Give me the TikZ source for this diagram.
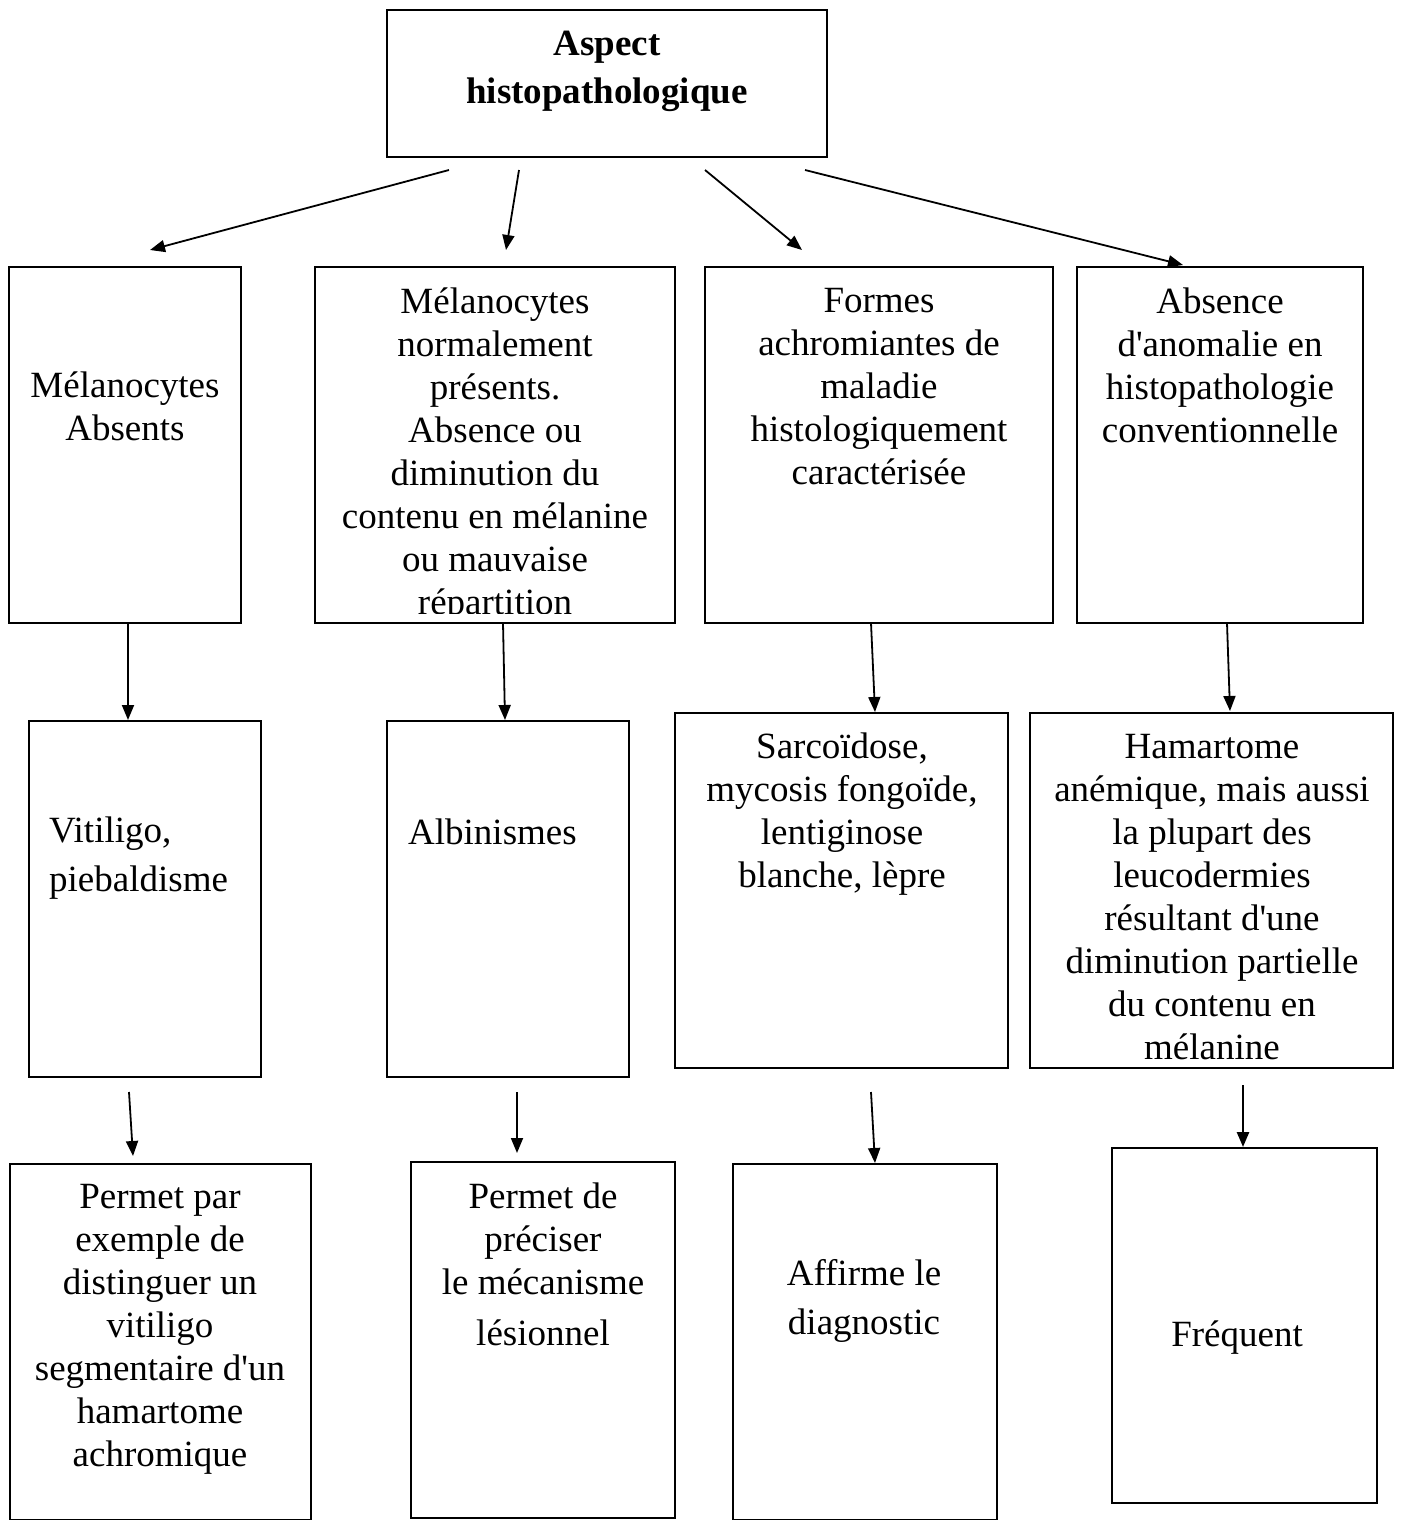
\documentclass[tikz,border=0pt]{standalone}
\usepackage{fontspec}
\setmainfont{Liberation Serif}[Ligatures=TeXOff]
\usetikzlibrary{arrows.meta}
\begin{document}
\begin{tikzpicture}[x=1pt,y=-1pt,
  box/.style={draw=black,line width=1.8pt,rectangle,inner sep=0pt},
  txt/.style={align=center,inner sep=0pt,font=\fontsize{37}{43}\selectfont},
  arr/.style={line width=1.8pt,-{Triangle[length=15pt,width=12pt]}}]
\useasboundingbox (0,0) rectangle (1403,1520);
% boxes
\newcommand{\mybox}[5]{\node[box,minimum width={#4-#2},minimum height={#5-#3}] (#1) at ({(#2+#4)/2},{(#3+#5)/2}) {};}
\mybox{top}{387}{10}{827}{157}
\mybox{a1}{9}{267}{241}{623}
\mybox{a2}{315}{267}{675}{623}
\mybox{a3}{705}{267}{1053}{623}
\mybox{a4}{1077}{267}{1363}{623}
\mybox{b1}{29}{721}{261}{1077}
\mybox{b2}{387}{721}{629}{1077}
\mybox{b3}{675}{713}{1008}{1068}
\mybox{b4}{1030}{713}{1393}{1068}
\mybox{c1}{10}{1164}{311}{1520}
\mybox{c2}{411}{1162}{675}{1518}
\mybox{c3}{733}{1164}{997}{1520}
\mybox{c4}{1112}{1148}{1377}{1503}
% texts
\node[txt,font=\fontsize{37}{48}\selectfont\bfseries] (ttop) at (607,71) {Aspect\\histopathologique};
\node[txt] (ta1) at (125,406) {Mélanocytes\\Absents};
\begin{scope}
\clip (316,268) rectangle (674,613);
\node[txt] (ta2) at (495,455) {Mélanocytes\\normalement\\présents.\\Absence ou\\diminution du\\contenu en mélanine\\ou mauvaise\\répartition};
\end{scope}
\node[txt] (ta3) at (879,387) {Formes\\achromiantes de\\maladie\\histologiquement\\caractérisée};
\node[txt] (ta4) at (1220,365) {Absence\\d'anomalie en\\histopathologie\\conventionnelle};
\node[txt,align=left,font=\fontsize{37}{49}\selectfont,anchor=west] (tb1) at (49,858) {Vitiligo,\\piebaldisme};
\node[txt,anchor=west] (tb2) at (408,832) {Albinismes};
\node[txt] (tb3) at (842,814) {Sarcoïdose,\\mycosis fongoïde,\\lentiginose\\blanche, lèpre};
\node[txt] (tb4) at (1212,897) {Hamartome\\anémique, mais aussi\\la plupart des\\leucodermies\\résultant d'une\\diminution partielle\\du contenu en\\mélanine};
\node[txt] (tc1) at (160,1329) {Permet par\\exemple de\\distinguer un\\vitiligo\\segmentaire d'un\\hamartome\\achromique};
\node[txt] (tc2) at (543,1264) {Permet de\\préciser\\le mécanisme\\[8pt]lésionnel};
\node[txt,font=\fontsize{37}{49}\selectfont] (tc3) at (864,1301) {Affirme le\\diagnostic};
\node[txt] (tc4) at (1237,1338) {Fréquent};
% arrow endpoints
\coordinate (s1) at (449,170); \coordinate (e1) at (150,250);
\coordinate (s2) at (519,170); \coordinate (e2) at (506,250);
\coordinate (s3) at (705,170); \coordinate (e3) at (802,250);
\coordinate (s4) at (805,170); \coordinate (e4) at (1183,265);
\coordinate (s5) at (128,623); \coordinate (e5) at (128,720);
\coordinate (s6) at (503,623); \coordinate (e6) at (505,720);
\coordinate (s7) at (871,623); \coordinate (e7) at (875,712);
\coordinate (s8) at (1227,623); \coordinate (e8) at (1230,711);
\coordinate (s9) at (129,1092); \coordinate (e9) at (133,1156);
\coordinate (s10) at (517,1092); \coordinate (e10) at (517,1153);
\coordinate (s11) at (871,1092); \coordinate (e11) at (875,1163);
\coordinate (s12) at (1243,1085); \coordinate (e12) at (1243,1147);
\foreach \i in {1,...,11} {\draw[arr] (s\i) -- (e\i);}
\draw[arr,line width=2.6pt] (s12) -- (e12);
\end{tikzpicture}
\end{document}
